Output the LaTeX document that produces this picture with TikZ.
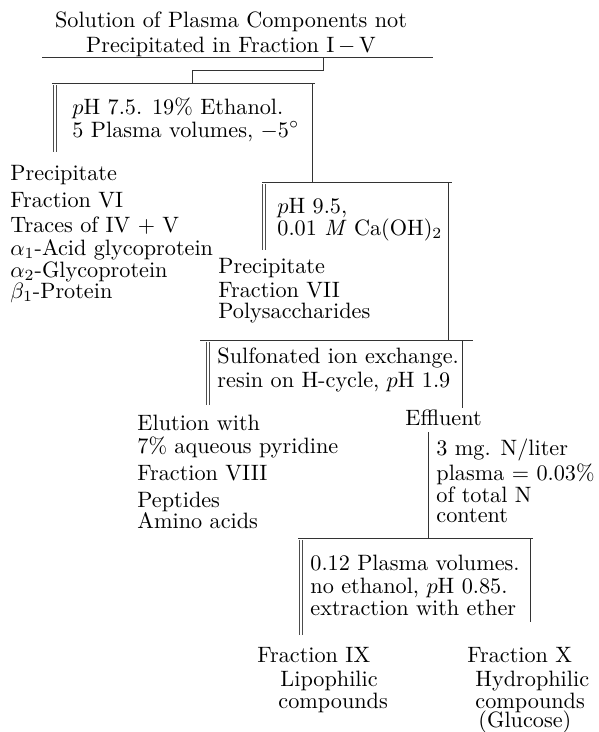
\documentclass[tikz,border=0pt]{standalone}
\usepackage{tikz}

\tikzset{
  lbl/.style={anchor=base west, inner sep=0pt},
  ttl/.style={anchor=north, inner sep=0pt, align=center},
  bar/.style={black!80, line width=0.45pt},
  dbl/.style={black!70, line width=0.3pt, double, double distance=0.8pt}
}

\begin{document}
\begin{tikzpicture}[x=0.45pt, y=-0.45pt, font=\fontsize{10}{10}\selectfont]
    \useasboundingbox (0,0) rectangle (599,732);

    \node[ttl] (ttl) at (231,11) {Solution of Plasma Components not\\[1.5pt]Precipitated in Fraction I$\,-\,$V};

    \coordinate (ti-l) at (42,57);
    \coordinate (ti-r) at (433,57);
    \coordinate (br-a) at (323,57);
    \coordinate (br-b) at (323,70);
    \coordinate (br-c) at (192,70);
    \coordinate (br-d) at (192,83);
    \draw[bar] (ti-l) -- (ti-r);
    \draw[bar] (br-a) -- (br-b) -- (br-c) -- (br-d);

    \coordinate (s1-l) at (52,83);
    \coordinate (s1-r) at (315,83);
    \coordinate (s1-v) at (312,83);
    \coordinate (s1-vb) at (312,182);
    \coordinate (s1-d) at (55,85);
    \coordinate (s1-db) at (55,152);
    \draw[bar] (s1-l) -- (s1-r);
    \draw[bar] (s1-v) -- (s1-vb);
    \draw[dbl] (s1-d) -- (s1-db);
    \node[lbl] (s1a) at (72,114) {$p$H 7.5. 19\% Ethanol.};
    \node[lbl] (s1b) at (72,137) {5 Plasma volumes, $-5^\circ$};

    \node[lbl] (p6a) at (10,180) {Precipitate};
    \node[lbl] (p6b) at (10,207) {Fraction VI};
    \node[lbl] (p6c) at (10,232) {Traces of IV $+$ V};
    \node[lbl] (p6d) at (10,255) {$\alpha_1$-Acid glycoprotein};
    \node[lbl] (p6e) at (10,277) {$\alpha_2$-Glycoprotein};
    \node[lbl] (p6f) at (10,298) {$\beta_1$-Protein};

    \coordinate (s2-l) at (262,182);
    \coordinate (s2-r) at (452,182);
    \coordinate (s2-v) at (448,182);
    \coordinate (s2-vb) at (448,340);
    \coordinate (s2-d) at (264,184);
    \coordinate (s2-db) at (264,250);
    \draw[bar] (s2-l) -- (s2-r);
    \draw[bar] (s2-v) -- (s2-vb);
    \draw[dbl] (s2-d) -- (s2-db);
    \node[lbl] (s2a) at (277,213) {$p$H 9.5,};
    \node[lbl] (s2b) at (277,235) {0.01 \textit{M} Ca(OH)$_2$};

    \node[lbl] (p7a) at (218,273) {Precipitate};
    \node[lbl] (p7b) at (218,297) {Fraction VII};
    \node[lbl] (p7c) at (218,318) {Polysaccharides};

    \coordinate (s3-l) at (200,340);
    \coordinate (s3-r) at (473,340);
    \coordinate (s3-v) at (462,340);
    \coordinate (s3-vb) at (462,408);
    \coordinate (s3-d) at (208,342);
    \coordinate (s3-db) at (208,405);
    \draw[bar] (s3-l) -- (s3-r);
    \draw[bar] (s3-v) -- (s3-vb);
    \draw[dbl] (s3-d) -- (s3-db);
    \node[lbl] (s3a) at (217,363) {Sulfonated ion exchange.};
    \node[lbl] (s3b) at (217,387) {resin on H-cycle, $p$H 1.9};

    \node[lbl] (el1) at (137,430) {Elution with};
    \node[lbl] (el2) at (137,453) {7\% aqueous pyridine};
    \node[lbl] (el3) at (137,480) {Fraction VIII};
    \node[lbl] (el4) at (137,507) {Peptides};
    \node[lbl] (el5) at (137,528) {Amino acids};

    \node[lbl] (ef) at (405,425) {Effluent};
    \coordinate (ef-v) at (428,432);
    \coordinate (ef-vb) at (428,538);
    \draw[bar] (ef-v) -- (ef-vb);
    \node[lbl] (n1) at (436,455) {3 mg. N/liter};
    \node[lbl] (n2) at (436,480) {plasma $=$ 0.03\%};
    \node[lbl] (n3) at (436,502) {of total N};
    \node[lbl] (n4) at (436,522) {content};

    \coordinate (s4-l) at (298,538);
    \coordinate (s4-r) at (533,538);
    \coordinate (s4-v) at (530,538);
    \coordinate (s4-vb) at (530,622);
    \coordinate (s4-d) at (301,540);
    \coordinate (s4-db) at (301,635);
    \draw[bar] (s4-l) -- (s4-r);
    \draw[bar] (s4-v) -- (s4-vb);
    \draw[dbl] (s4-d) -- (s4-db);
    \node[lbl] (s4a) at (310,570) {0.12 Plasma volumes.};
    \node[lbl] (s4b) at (310,593) {no ethanol, $p$H 0.85.};
    \node[lbl] (s4c) at (310,615) {extraction with ether};

    \node[lbl] (f9a) at (257,662) {Fraction IX};
    \node[lbl] (f9b) at (280,686) {Lipophilic};
    \node[lbl] (f9c) at (278,708) {compounds};

    \node[lbl] (f10a) at (467,662) {Fraction X};
    \node[lbl] (f10b) at (475,686) {Hydrophilic};
    \node[lbl] (f10c) at (475,708) {compounds};
    \node[lbl] (f10d) at (478,727) {(Glucose)};
\end{tikzpicture}
\end{document}
